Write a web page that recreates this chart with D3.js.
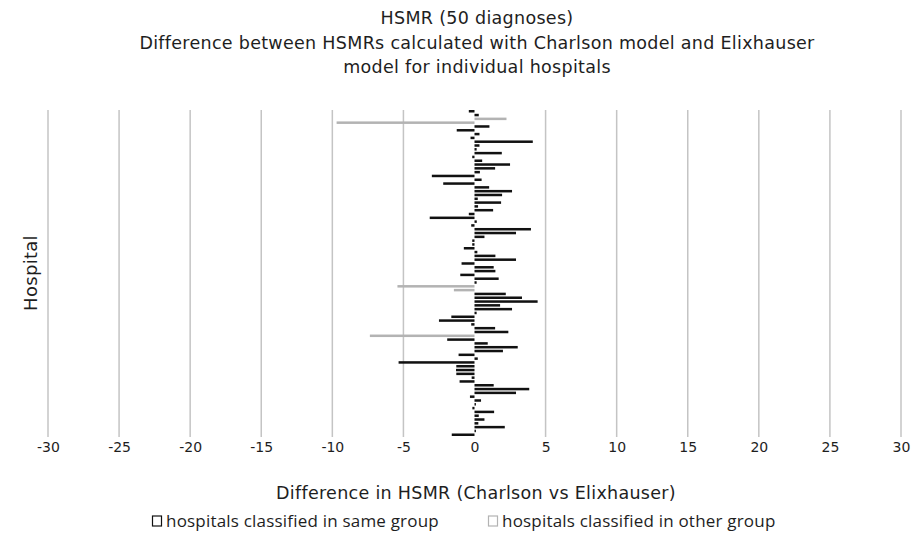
<!DOCTYPE html>
<html>
<head>
<meta charset="utf-8">
<script src="https://cdn.jsdelivr.net/npm/d3@7"></script>
<style>
  body { margin: 0; background: #fff; }
  text { font-family: "DejaVu Sans", sans-serif; fill: #1e1e1e; }
</style>
</head>
<body>
<script>
// difference in HSMR (Charlson - Elixhauser) per hospital, top to bottom
var diff = [
  -0.4, 0.3, 2.25, -9.7, 1.05, -1.25, 0.35, -0.28, 4.1, 0.35,
  0.15, 1.92, -0.16, 0.54, 2.5, 1.45, 0.38, -3.0, 0.5, -2.2,
  1.03, 2.64, 1.94, 0.23, 1.87, 0.25, 1.31, -0.4, -3.15, 0.16,
  -0.23, 3.97, 2.92, 0.7, -0.16, -0.16, -0.75, 0.2, 1.47, 2.92,
  -0.91, 1.35, 1.47, -1.0, 1.7, 0.15, -5.42, -1.45, 2.2, 3.34,
  4.44, 1.8, 2.64, 0.15, -1.63, -2.5, -0.23, 1.45, 2.38, -7.36,
  -1.92, 0.93, 3.04, 2.0, -1.12, 0.23, -5.34, -1.28, -1.3, -1.28,
  -0.2, -1.05, 1.35, 3.85, 2.92, -0.32, 0.46, 0.1, -0.15, 1.38,
  0.3, 0.7, 0.27, 2.13, 0.1, -1.6
];
// hospitals (1-based) classified in the other group
var otherGroup = [3, 4, 47, 48, 60];

var xTicks = [-30, -25, -20, -15, -10, -5, 0, 5, 10, 15, 20, 25, 30];

var titleLines = [
  "HSMR (50 diagnoses)",
  "Difference between HSMRs calculated with Charlson model and Elixhauser",
  "model for individual hospitals"
];
var legendItems = [
  {label: "hospitals classified in same group", color: "#111"},
  {label: "hospitals classified in other group", color: "#b3b3b3"}
];

var W = 913, H = 545;
var margin = {top: 110, right: 12, bottom: 109, left: 48};

var data = diff.map(function(v, i) {
  return {hospital: i + 1, value: v, other: otherGroup.indexOf(i + 1) >= 0};
});

var svg = d3.select("body").append("svg")
    .attr("width", W)
    .attr("height", H);

var x = d3.scaleLinear()
    .domain([-30, 30])
    .range([margin.left, W - margin.right]);

var y = d3.scaleBand()
    .domain(data.map(function(d) { return d.hospital; }))
    .range([margin.top, H - margin.bottom])
    .paddingInner(0.34);

// vertical gridlines (none at zero)
svg.append("g")
    .selectAll("line")
    .data(xTicks.filter(function(t) { return t !== 0; }))
    .enter()
    .append("line")
    .attr("x1", function(d) { return x(d); })
    .attr("x2", function(d) { return x(d); })
    .attr("y1", margin.top)
    .attr("y2", H - margin.bottom + 1)
    .attr("stroke", "#c4c4c4")
    .attr("stroke-width", 1.5);

svg.append("g")
    .selectAll("rect")
    .data(data)
    .enter()
    .append("rect")
    .attr("x", function(d) { return x(Math.min(0, d.value)); })
    .attr("y", function(d) { return y(d.hospital); })
    .attr("width", function(d) { return Math.abs(x(d.value) - x(0)); })
    .attr("height", y.bandwidth())
    .attr("fill", function(d) { return d.other ? "#b3b3b3" : "#111"; });

var xAxis = d3.axisBottom(x)
    .tickValues(xTicks)
    .tickFormat(function(d) { return String(d); })
    .tickSize(0)
    .tickPadding(0);

svg.append("g")
    .attr("transform", "translate(0," + 452 + ")")
    .call(xAxis)
    .call(function(g) { g.select(".domain").remove(); })
    .selectAll("text")
    .attr("dy", 0)
    .style("font-family", "'DejaVu Sans', sans-serif")
    .style("font-size", "14px")
    .attr("fill", "#1e1e1e");

svg.append("g")
    .selectAll("text")
    .data(titleLines)
    .enter()
    .append("text")
    .attr("x", 477)
    .attr("y", function(d, i) { return 24 + i * 24.5; })
    .attr("text-anchor", "middle")
    .style("font-size", "17.5px")
    .style("letter-spacing", "0.3px")
    .text(function(d) { return d; });

svg.append("text")
    .attr("x", 476)
    .attr("y", 499)
    .attr("text-anchor", "middle")
    .style("font-size", "17.5px")
    .style("letter-spacing", "0.3px")
    .text("Difference in HSMR (Charlson vs Elixhauser)");

svg.append("text")
    .attr("transform", "translate(37,273) rotate(-90)")
    .attr("text-anchor", "middle")
    .style("font-size", "18px")
    .style("letter-spacing", "0.3px")
    .text("Hospital");

var legend = svg.append("g")
    .attr("transform", "translate(0,521)");

var legendX = [152, 488];
var item = legend.selectAll("g")
    .data(legendItems)
    .enter()
    .append("g")
    .attr("transform", function(d, i) { return "translate(" + legendX[i] + ",0)"; });

item.append("rect")
    .attr("x", 0.5)
    .attr("y", -5)
    .attr("width", 9)
    .attr("height", 10)
    .attr("fill", "#fff")
    .attr("stroke", function(d) { return d.color; })
    .attr("stroke-width", 1.2);

item.append("text")
    .attr("x", 14)
    .attr("y", 6)
    .style("font-family", "'Open Sans', sans-serif")
    .style("font-size", "17px")
    .style("letter-spacing", "0.2px")
    .text(function(d) { return d.label; });
</script>
</body>
</html>
